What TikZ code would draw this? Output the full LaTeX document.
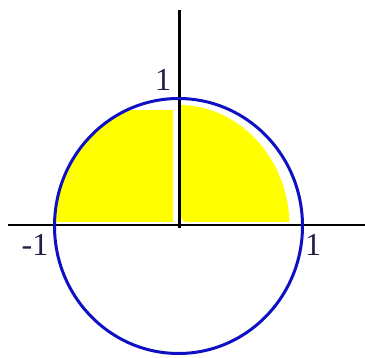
\documentclass[tikz,border=0pt]{standalone}
\usepackage{fontspec}
\setmainfont{Liberation Serif}
\definecolor{circblue}{RGB}{15,15,195}
\definecolor{hiyellow}{RGB}{255,255,0}
\definecolor{labelnavy}{RGB}{30,30,70}
\tikzset{
  axis/.style={line width=2.4pt, black},
  unitcircle/.style={line width=3pt, circblue},
  lbl/.style={font=\fontsize{32}{32}\selectfont, text=labelnavy, inner sep=0pt}
}
\begin{document}
\begin{tikzpicture}[x=1pt,y=-1pt]
\useasboundingbox (0,0) rectangle (365,358);
\coordinate (O) at (178.5,226);
% yellow scribbled fill
\begin{scope}
  \clip (O) ellipse [x radius=123, y radius=126];
  \fill[hiyellow] (54,110) rectangle (173,222);
\end{scope}
\begin{scope}
  \clip (O) ellipse [x radius=111, y radius=121];
  \fill[hiyellow, rounded corners=6pt] (181,100) rectangle (300,222);
\end{scope}
% axes
\coordinate (xl) at (8,225);
\coordinate (xr) at (365,225);
\coordinate (yt) at (179.5,10);
\coordinate (yb) at (179.5,228);
\draw[axis] (xl) -- (xr);
\draw[axis] (yt) -- (yb);
% circle
\draw[unitcircle] (O) ellipse [x radius=124, y radius=127.5];
% labels
\node[lbl] (ytick) at (163,80) {1};
\node[lbl] (xneg) at (35,245) {-1};
\node[lbl] (xpos) at (313,245) {1};
\end{tikzpicture}
\end{document}
